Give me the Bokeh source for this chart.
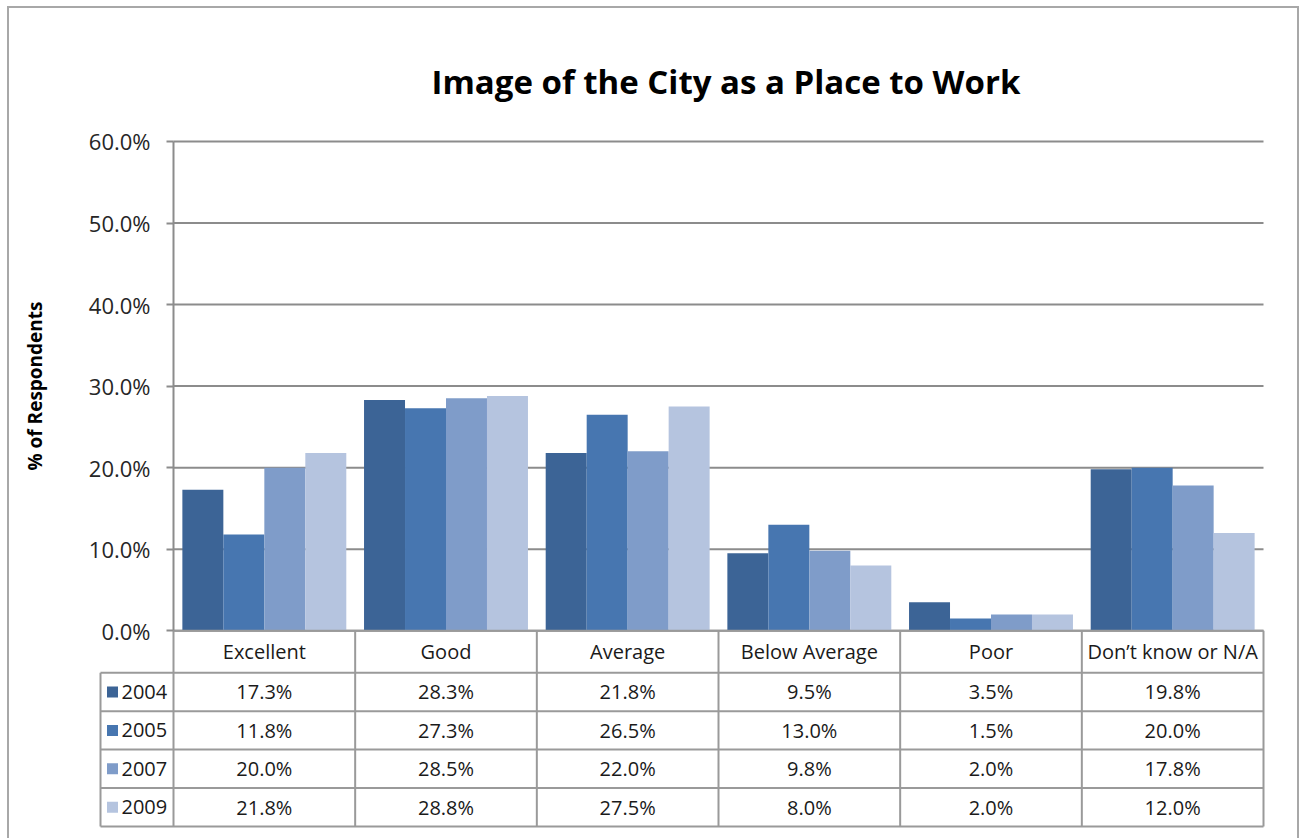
from bokeh.plotting import figure
from bokeh.models import Range1d, FixedTicker, PrintfTickFormatter, LinearAxis
from bokeh.core.properties import value
from bokeh.embed import file_html
from bokeh.resources import INLINE

categories = ["Excellent", "Good", "Average", "Below Average", "Poor", "Don\u2019t know or N/A"]
years = ["2004", "2005", "2007", "2009"]
v2004 = [17.3, 28.3, 21.8, 9.5, 3.5, 19.8]
v2005 = [11.8, 27.3, 26.5, 13.0, 1.5, 20.0]
v2007 = [20.0, 28.5, 22.0, 9.8, 2.0, 17.8]
v2009 = [21.8, 28.8, 27.5, 8.0, 2.0, 12.0]
series = [v2004, v2005, v2007, v2009]
colors = ["#3C6496", "#4776B0", "#7F9CC9", "#B5C4DF"]
y_ticks = [0, 10, 20, 30, 40, 50, 60]

FONT = "Open Sans"
GRID = "#8c8c8c"
TABLE_LINE = "#9a9a9a"
TXT = "#1a1a1a"

n = len(categories)
m = len(years)
bar_w = 0.2256

# geometry (pixels per data unit)
unit_px = 1090.0 / n          # category width
ypx = 490.0 / 60.0            # px per percentage point
axis_px = 173.0               # screen x of the value axis
left_px = 73.0                # width of the legend column of the table
x_left = -left_px / unit_px
hdr = 42.0 / ypx              # header row height in y units
row = 38.5 / ypx              # data row height in y units
y_bottom = -(hdr + m * row)
pad_x = 2.0 / unit_px
pad_y = 2.0 / ypx
top_room = 21.0 / ypx         # room above the 60% line for its tick label

p = figure(width=1299, height=838,
           x_range=Range1d(-axis_px / unit_px, n + pad_x),
           y_range=Range1d(y_bottom - pad_y, 60 + top_room),
           x_axis_type=None, y_axis_type=None,
           output_backend="svg", toolbar_location=None,
           min_border_left=0, min_border_right=34, min_border_top=120, min_border_bottom=10,
           title="Image of the City as a Place to Work")
p.outline_line_color = None
p.background_fill_color = None
p.border_fill_color = None
p.grid.visible = False
border = "#a8a8a8"
p.styles = {
    "background-color": "white",
    "background-image": ", ".join(["linear-gradient(%s, %s)" % (border, border)] * 3),
    "background-size": "2px 100%, 100% 2px, 2px 100%",
    "background-position": "7px 6px, 7px 6px, 1297px 6px",
    "background-repeat": "no-repeat",
}

p.title.align = "left"
p.title.offset = 431
p.title.text_font = FONT
p.title.text_font_size = "33px"
p.title.text_font_style = "bold"
p.title.text_color = "black"
p.title.standoff = 34

yax = LinearAxis(ticker=FixedTicker(ticks=y_ticks), formatter=PrintfTickFormatter(format="%.1f%%"),
                 fixed_location=0, bounds=(0, 60))
yax.axis_label = "% of Respondents"
yax.axis_label_text_font = FONT
yax.axis_label_text_font_style = "bold"
yax.axis_label_text_font_size = "19px"
yax.axis_label_text_color = "black"
yax.axis_label_standoff = 38
yax.major_label_text_font = FONT
yax.major_label_text_font_size = "22px"
yax.major_label_text_color = "#262626"
yax.major_label_standoff = 16
yax.major_tick_in = 0
yax.major_tick_out = 7
yax.minor_tick_in = 0
yax.minor_tick_out = 0
yax.axis_line_color = GRID
yax.axis_line_width = 2
yax.major_tick_line_color = GRID
yax.major_tick_line_width = 2
p.add_layout(yax, "left")

# horizontal gridlines across the plot area (behind the bars)
p.segment(x0=[0] * len(y_ticks), y0=y_ticks, x1=[n] * len(y_ticks), y1=y_ticks,
          line_color=GRID, line_width=2)

for j, vals in enumerate(series):
    xs = [i + 0.5 + (j - 1.5) * bar_w for i in range(n)]
    p.vbar(x=xs, top=vals, bottom=0, width=bar_w, fill_color=colors[j], line_color=None)

# ---------------- data table below the axis ----------------
row_top = [-(hdr + k * row) for k in range(m + 1)]       # lines between rows
row_mid = [-(hdr + (k + 0.5) * row) for k in range(m)]

hx0 = [0] + [x_left] * (m + 1)
hy = [0] + row_top
p.segment(x0=hx0, y0=hy, x1=[n] * len(hy), y1=hy, line_color=TABLE_LINE, line_width=2)
vx = list(range(n + 1)) + [x_left]
vy1 = [0] * (n + 1) + [-hdr]
p.segment(x0=vx, y0=[y_bottom] * len(vx), x1=vx, y1=vy1, line_color=TABLE_LINE, line_width=2)

p.text(x=[i + 0.5 for i in range(n)], y=[-hdr / 2] * n, text=categories,
       text_font=value(FONT), text_font_size="20px", text_color=TXT,
       text_align="center", text_baseline="middle")

for k, vals in enumerate(series):
    p.text(x=[i + 0.5 for i in range(n)], y=[row_mid[k]] * n, text=["%.1f%%" % v for v in vals],
           text_font=value(FONT), text_font_size="20px", text_color=TXT,
           text_align="center", text_baseline="middle")

p.rect(x=[x_left + 12.0 / unit_px] * m, y=row_mid, width=11, height=11,
       width_units="screen", height_units="screen", fill_color=colors, line_color=None)
p.text(x=[x_left + 21.0 / unit_px] * m, y=row_mid, text=years,
       text_font=value(FONT), text_font_size="20px", text_color=TXT,
       text_align="left", text_baseline="middle")

open("out.html", "w").write(file_html(p, INLINE))
